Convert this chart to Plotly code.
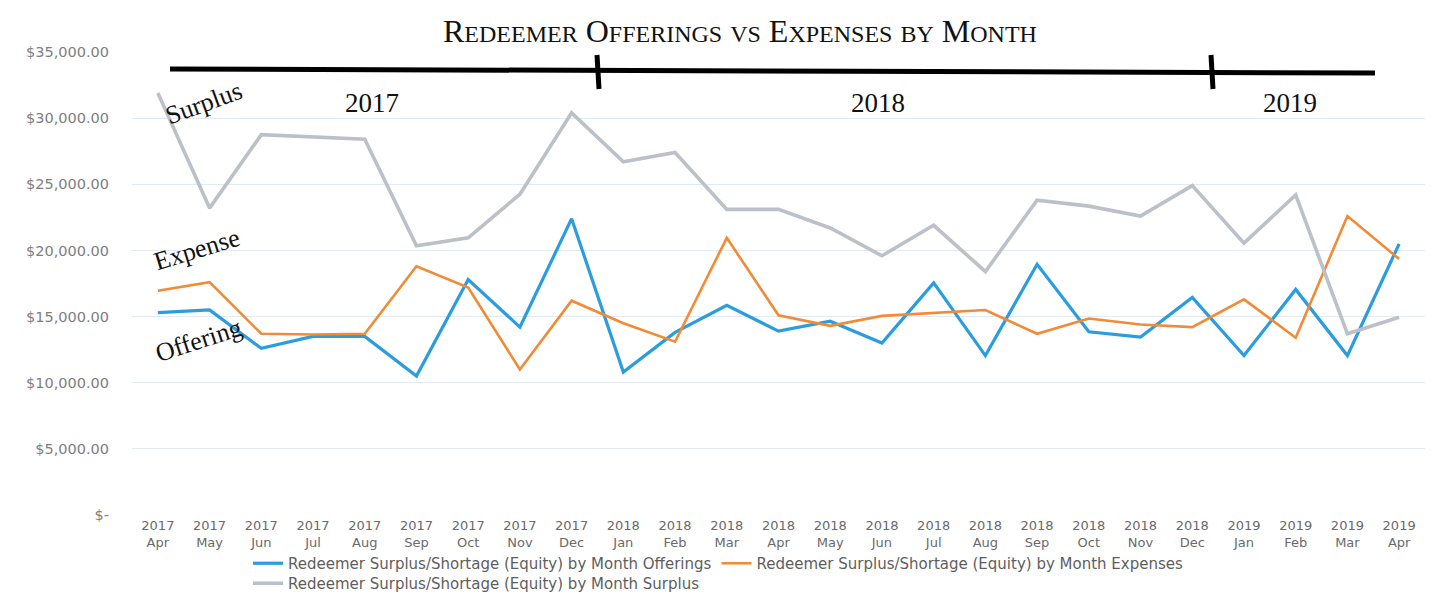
import plotly.graph_objects as go

months = ["Apr", "May", "Jun", "Jul", "Aug", "Sep", "Oct", "Nov", "Dec",
          "Jan", "Feb", "Mar", "Apr", "May", "Jun", "Jul", "Aug", "Sep", "Oct", "Nov", "Dec",
          "Jan", "Feb", "Mar", "Apr"]
years = ["2017"] * 9 + ["2018"] * 12 + ["2019"] * 4
categories = [f"{y} {m}" for y, m in zip(years, months)]
tick_labels = [f"{y}<br>{m}" for y, m in zip(years, months)]

offerings = [15300, 15500, 12600, 13500, 13500, 10500, 17800, 14200, 22400,
             10800, 13800, 15850, 13900, 14650, 13000, 17550, 12050, 18950, 13850,
             13450, 16450, 12050, 17050, 12050, 20500]
expenses = [16950, 17600, 13700, 13650, 13700, 18800, 17200, 11000, 16200,
            14500, 13100, 20950, 15100, 14300, 15050, 15300, 15500, 13700, 14850,
            14400, 14200, 16300, 13400, 22600, 19350]
surplus = [31900, 23200, 28750, 28550, 28400, 20350, 20950, 24250, 30400,
           26700, 27400, 23100, 23100, 21700, 19600, 21900, 18400, 23800, 23350,
           22600, 24900, 20550, 24200, 13700, 14950]

y_ticks = [0, 5000, 10000, 15000, 20000, 25000, 30000, 35000]
y_tick_text = ["$-", "$5,000.00", "$10,000.00", "$15,000.00", "$20,000.00",
               "$25,000.00", "$30,000.00", "$35,000.00"]

series_names = ["Redeemer Surplus/Shortage (Equity) by Month Offerings",
                "Redeemer Surplus/Shortage (Equity) by Month Expenses",
                "Redeemer Surplus/Shortage (Equity) by Month Surplus"]

fig = go.Figure()
fig.add_trace(go.Scatter(x=categories, y=offerings, mode="lines", name=series_names[0],
                         line=dict(color="#2A9DDF", width=3.2), legend="legend"))
fig.add_trace(go.Scatter(x=categories, y=expenses, mode="lines", name=series_names[1],
                         line=dict(color="#F28A36", width=2.6), legend="legend"))
fig.add_trace(go.Scatter(x=categories, y=surplus, mode="lines", name=series_names[2],
                         line=dict(color="#BCC0C8", width=3.6), legend="legend2"))

serif = "Liberation Serif, Times New Roman, serif"
big = 32
small = 24
def sc(word):
    return f"{word[0]}<span style='font-size:{small}px'>{word[1:].upper()}</span>"
title_txt = " ".join([sc("Redeemer"), sc("Offerings"),
                      f"<span style='font-size:{small}px'>VS</span>",
                      sc("Expenses"), f"<span style='font-size:{small}px'>BY</span>", sc("Month")])

L, R, T, B = 132, 1425, 52, 515
def px(x):
    return (x - L) / (R - L)
def py(y):
    return (B - y) / (B - T)

annotations = [
    dict(text=title_txt, x=740, y=31, size=big),
    dict(text="2017", x=372, y=103, size=27),
    dict(text="2018", x=878, y=103, size=27),
    dict(text="2019", x=1290, y=103, size=27),
    dict(text="Surplus", x=203, y=103, size=26, textangle=-20),
    dict(text="Expense", x=197, y=250, size=26, textangle=-17),
    dict(text="Offering", x=198, y=340, size=26, textangle=-18),
]

ann_objs = []
for a in annotations:
    ann_objs.append(dict(text=a["text"], x=px(a["x"]), y=py(a["y"]), xref="paper", yref="paper",
                         showarrow=False, textangle=a.get("textangle", 0),
                         font=dict(family=serif, size=a["size"], color="#111"),
                         xanchor="center", yanchor="middle"))

shapes = [
    dict(type="line", x0=px(170), y0=py(69), x1=px(1375), y1=py(73), xref="paper", yref="paper",
         line=dict(color="black", width=5)),
    dict(type="line", x0=px(597), y0=py(55), x1=px(599), y1=py(89), xref="paper", yref="paper",
         line=dict(color="black", width=5)),
    dict(type="line", x0=px(1211), y0=py(55), x1=px(1213), y1=py(89), xref="paper", yref="paper",
         line=dict(color="black", width=5)),
]

tick_font = "DejaVu Sans, Verdana, sans-serif"
legend_font = dict(family=tick_font, size=15, color="#5E5E5E")
clear = "rgba(0,0,0,0)"

fig.update_layout(
    width=1450, height=594,
    margin=dict(l=L, r=1450 - R, t=T, b=594 - B, autoexpand=False),
    paper_bgcolor="white", plot_bgcolor="white",
    font=dict(family=tick_font, color="#6B6B6B", size=12),
    showlegend=True,
    legend=dict(orientation="h", x=px(248), y=py(547), xanchor="left", yanchor="top",
                font=legend_font, tracegroupgap=0, itemwidth=30, bgcolor=clear),
    legend2=dict(orientation="h", x=px(248), y=py(567), xanchor="left", yanchor="top",
                 font=legend_font, tracegroupgap=0, itemwidth=30, bgcolor=clear),
    annotations=ann_objs,
    shapes=shapes,
    xaxis=dict(type="category", tickmode="array", tickvals=categories, ticktext=tick_labels,
               showgrid=False, showline=False, zeroline=False, ticks="",
               tickfont=dict(size=13, color="#6A6A6A"), range=[-0.5, 24.5],
               ticklabelstandoff=1, automargin=False),
    yaxis=dict(range=[0, 35000], tickmode="array", tickvals=y_ticks, ticktext=y_tick_text,
               showgrid=True, gridcolor="#E2EAF3", gridwidth=1, zeroline=False, showline=False,
               ticks="", tickfont=dict(size=14.5, color="#7E7E7E"), ticklabelstandoff=22,
               automargin=False),
)

fig.write_html("out.html")
